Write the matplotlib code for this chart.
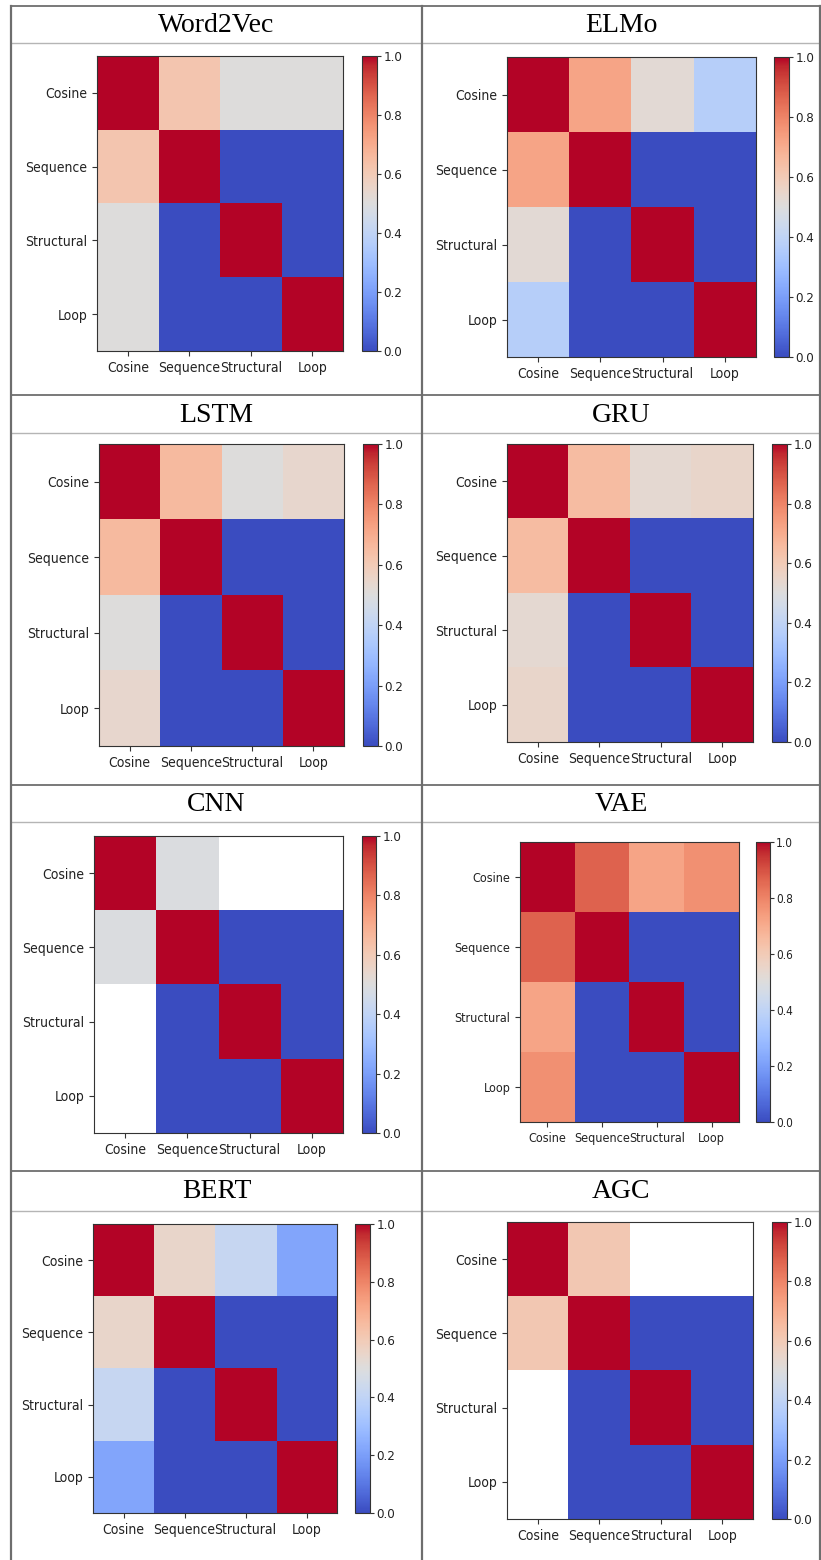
import numpy as np
import matplotlib.pyplot as plt
from matplotlib.lines import Line2D
from matplotlib import font_manager

labels = ['Cosine', 'Sequence', 'Structural', 'Loop']
nan = np.nan

# similarity of each pair of metrics, one matrix per model
word2vec = [[1.00, 0.62, 0.50, 0.50],
            [0.62, 1.00, 0.00, 0.00],
            [0.50, 0.00, 1.00, 0.00],
            [0.50, 0.00, 0.00, 1.00]]
elmo = [[1.00, 0.72, 0.52, 0.37],
        [0.72, 1.00, 0.00, 0.00],
        [0.52, 0.00, 1.00, 0.00],
        [0.37, 0.00, 0.00, 1.00]]
lstm = [[1.00, 0.66, 0.50, 0.54],
        [0.66, 1.00, 0.00, 0.00],
        [0.50, 0.00, 1.00, 0.00],
        [0.54, 0.00, 0.00, 1.00]]
gru = [[1.00, 0.65, 0.53, 0.55],
       [0.65, 1.00, 0.00, 0.00],
       [0.53, 0.00, 1.00, 0.00],
       [0.55, 0.00, 0.00, 1.00]]
cnn = [[1.00, 0.49, nan, nan],
       [0.49, 1.00, 0.00, 0.00],
       [nan, 0.00, 1.00, 0.00],
       [nan, 0.00, 0.00, 1.00]]
vae = [[1.00, 0.87, 0.72, 0.77],
       [0.87, 1.00, 0.00, 0.00],
       [0.72, 0.00, 1.00, 0.00],
       [0.77, 0.00, 0.00, 1.00]]
bert = [[1.00, 0.55, 0.42, 0.22],
        [0.55, 1.00, 0.00, 0.00],
        [0.42, 0.00, 1.00, 0.00],
        [0.22, 0.00, 0.00, 1.00]]
agc = [[1.00, 0.61, nan, nan],
       [0.61, 1.00, 0.00, 0.00],
       [nan, 0.00, 1.00, 0.00],
       [nan, 0.00, 0.00, 1.00]]

titles = ['Word2Vec', 'ELMo', 'LSTM', 'GRU', 'CNN', 'VAE', 'BERT', 'AGC']
mats = [word2vec, elmo, lstm, gru, cnn, vae, bert, agc]

names = {f.name for f in font_manager.fontManager.ttflist}
narrow = 'Liberation Sans Narrow' if 'Liberation Sans Narrow' in names else 'DejaVu Sans'
plt.rcParams['font.family'] = narrow
plt.rcParams['font.stretch'] = 'condensed'

W, H = 821, 1560
fig = plt.figure(figsize=(W / 100, H / 100), dpi=100)

def box(x0, y0, x1, y1):
    # pixel box (top-left origin) -> figure fraction rect
    return [x0 / W, 1 - y1 / H, (x1 - x0) / W, (y1 - y0) / H]

# heatmap box, colorbar x-range and label size for each panel
layout = [
    ((97, 56, 343, 351), (362, 377), 10),
    ((507, 57, 756, 357), (774, 789), 10),
    ((99, 444, 344, 746), (363, 378), 10),
    ((507, 444, 753, 742), (772, 787), 10),
    ((94, 836, 343, 1133), (362, 376), 10),
    ((520, 842, 739, 1122), (756, 770), 9),
    ((93, 1224, 337, 1513), (355, 370), 10),
    ((507, 1222, 753, 1519), (772, 787), 10),
]

cmap = plt.get_cmap('coolwarm').copy()
cmap.set_bad('white')

for mat, (hb, cb, fs) in zip(mats, layout):
    ax = fig.add_axes(box(*hb))
    data = np.ma.masked_invalid(np.array(mat))
    im = ax.imshow(data, cmap=cmap, vmin=0, vmax=1, aspect='auto',
                   interpolation='nearest')
    ax.set_xticks(range(4))
    ax.set_xticklabels(labels)
    ax.set_yticks(range(4))
    ax.set_yticklabels(labels)
    ax.tick_params(length=3.5, width=0.8, labelsize=fs,
                   colors='#333333', labelcolor='#222222')
    for s in ax.spines.values():
        s.set_color('#333333')
    cax = fig.add_axes(box(cb[0], hb[1], cb[1], hb[3]))
    cbar = fig.colorbar(im, cax=cax, ticks=[0, 0.2, 0.4, 0.6, 0.8, 1.0])
    cbar.ax.tick_params(length=3, labelsize=fs - 0.5, pad=1.5,
                        colors='#333333', labelcolor='#222222')
    cbar.outline.set_edgecolor('#333333')

# table grid
left, mid, right = 11, 422, 820
row_tops = [6, 395, 785, 1171]
head_bots = [43, 433, 822, 1211]
grid = '#6e6e6e'

def hline(y, x0, x1, c=grid, lw=1.3):
    fig.add_artist(Line2D([x0 / W, x1 / W], [1 - y / H, 1 - y / H],
                          color=c, lw=lw))

def vline(x, y0, y1, c=grid, lw=1.6):
    fig.add_artist(Line2D([x / W, x / W], [1 - y0 / H, 1 - y1 / H],
                          color=c, lw=lw))

for y in row_tops:
    hline(y, left, right)
for y in head_bots:
    hline(y, left, right, c='#b5b5b5', lw=1.0)
vline(left, row_tops[0], H)
vline(mid, row_tops[0], H)
vline(right, row_tops[0], H)

for i, t in enumerate(titles):
    r, c = divmod(i, 2)
    xc = (left + mid) / 2 if c == 0 else (mid + right) / 2
    yc = (row_tops[r] + head_bots[r]) / 2 + 1
    fig.text(xc / W, 1 - yc / H, t, ha='center', va='center',
             fontsize=20, family='Liberation Serif', fontstretch='normal')

fig.savefig('out.png', dpi=100)
